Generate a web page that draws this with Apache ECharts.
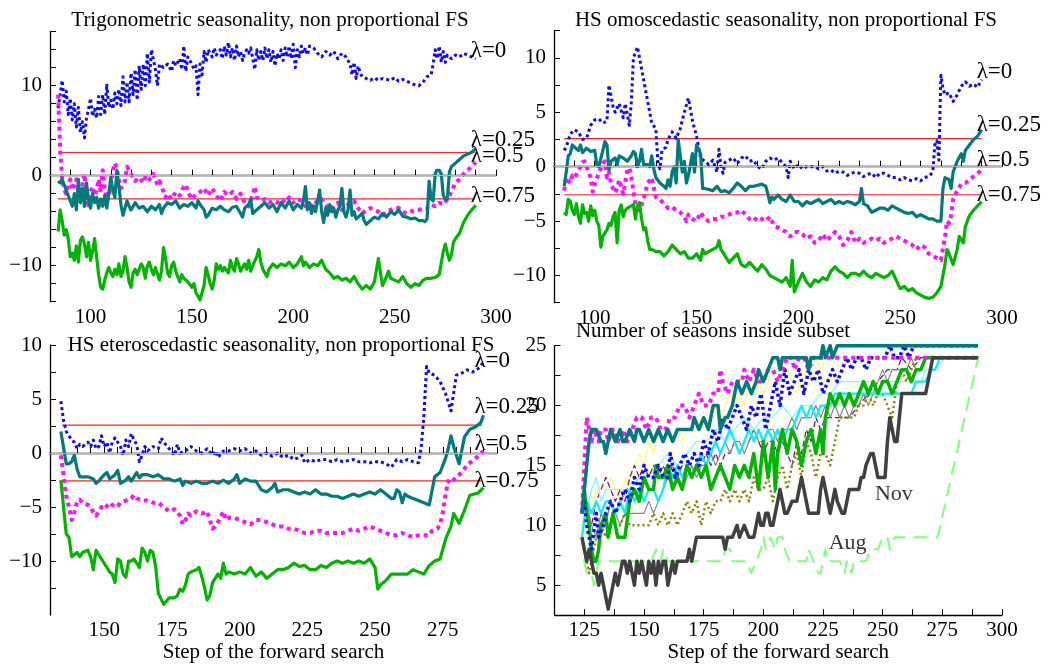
<!DOCTYPE html>
<html>
<head>
<meta charset="utf-8">
<script src="https://cdn.jsdelivr.net/npm/echarts@6/dist/echarts.min.js"></script>
<style>
html,body{margin:0;padding:0;background:#fff;}
#chart{width:1050px;height:664px;}
</style>
</head>
<body>
<div id="chart"></div>
<script>
// ---- data ----
var limitLevel = 2.58;

var titles = [
  'Trigonometric seasonality, non proportional FS',
  'HS omoscedastic seasonality, non proportional FS',
  'HS eteroscedastic seasonality, non proportional FS',
  'Number of seasons inside subset'
];
var lambdaLabels = ['\u03bb=0', '\u03bb=0.25', '\u03bb=0.5', '\u03bb=0.75'];
var xAxisTitle = 'Step of the forward search';

// panel 1: trigonometric
var p1Lam0 = [[84,7.5],[85,9.0],[86,10.6],[87,8.2],[88,9.4],[89,6.8],[90,8.6],[91,6.2],[92,8.0],[93,5.4],[94,7.6],[95,4.8],[96,6.0],[97,4.2],[98,6.4],[99,7.4],[100,8.6],[101,6.6],[102,7.4],[103,6.4],[104,8.8],[105,6.8],[106,9.0],[107,6.8],[108,10.2],[109,7.6],[110,8.4],[111,7.4],[112,9.2],[113,8.0],[114,9.6],[115,7.8],[116,11.0],[117,8.2],[118,10.4],[119,8.2],[120,11.4],[121,9.0],[122,11.8],[123,8.4],[124,12.2],[125,9.6],[126,12.4],[127,10.0],[128,13.6],[129,10.4],[130,14.0],[132,11.8],[133,10.0],[134,12.4],[136,12.0],[138,12.4],[140,11.6],[141,12.8],[142,12.2],[144,13.0],[145,11.8],[146,14.4],[147,11.6],[148,13.2],[150,12.4],[151,11.8],[152,12.2],[153,9.0],[154,12.4],[155,11.2],[156,13.8],[157,12.6],[158,14.0],[160,13.2],[161,14.2],[162,13.4],[164,14.0],[165,13.0],[166,14.4],[167,13.4],[168,14.8],[169,13.2],[170,14.2],[171,12.8],[172,14.4],[173,13.2],[174,13.8],[175,12.8],[176,13.6],[177,14.0],[178,13.6],[179,14.2],[180,13.0],[181,11.8],[182,14.0],[183,12.8],[184,13.8],[185,12.8],[186,14.2],[187,13.0],[188,14.0],[189,12.6],[190,13.8],[191,12.2],[192,13.6],[193,13.0],[194,14.0],[195,12.8],[196,14.2],[197,13.2],[198,14.4],[199,13.0],[200,14.6],[201,12.0],[202,14.0],[203,13.2],[204,14.4],[205,13.6],[206,14.2],[207,13.4],[208,14.4],[210,14.2],[212,13.6],[214,13.2],[216,13.8],[218,13.4],[220,13.8],[222,13.0],[224,13.6],[226,13.2],[228,12.4],[229,11.2],[230,12.6],[231,10.8],[232,12.2],[233,11.4],[234,11.0],[236,10.8],[238,10.6],[240,10.9],[242,10.6],[244,10.8],[246,10.7],[248,10.6],[250,10.9],[252,10.5],[254,10.7],[256,10.5],[258,10.3],[260,10.1],[262,10.0],[264,10.4],[266,11.0],[268,11.2],[269,12.4],[270,14.0],[271,13.0],[272,14.4],[273,12.6],[274,13.8],[275,12.6],[276,13.4],[278,13.0],[280,13.4],[282,13.2],[284,13.6],[286,13.4],[288,13.2],[290,13.0]];
var p1Lam25 = [[84,-0.6],[85,-0.8],[86,-0.4],[87,-1.0],[88,-1.6],[89,-2.2],[90,-2.8],[91,-3.4],[92,-2.0],[93,-3.8],[94,-0.4],[95,-3.0],[96,-1.4],[97,-3.4],[98,-0.8],[99,-2.6],[100,-3.6],[101,-2.0],[102,-3.0],[103,-2.4],[104,-3.6],[105,-2.6],[106,-3.4],[107,-2.2],[108,-3.6],[109,-2.0],[110,-0.2],[111,-1.6],[112,-2.4],[113,0.6],[114,-1.2],[115,-3.2],[116,-4.4],[117,-3.6],[118,-2.8],[119,-3.4],[120,-3.8],[122,-3.0],[124,-3.6],[126,-3.4],[128,-4.0],[130,-3.4],[132,-3.8],[134,-3.2],[135,-4.2],[136,-3.6],[138,-3.0],[140,-3.2],[142,-2.8],[144,-3.6],[146,-3.2],[148,-3.4],[150,-3.0],[152,-3.6],[153,-2.8],[154,-3.2],[156,-3.8],[157,-4.6],[158,-4.4],[160,-3.6],[162,-3.8],[164,-3.4],[166,-3.8],[168,-4.0],[170,-3.5],[172,-3.4],[174,-4.2],[175,-4.6],[176,-3.6],[178,-3.2],[179,-2.6],[180,-4.2],[182,-3.8],[184,-3.4],[186,-3.0],[188,-3.6],[190,-3.2],[192,-4.0],[194,-3.0],[196,-3.6],[198,-2.8],[200,-3.8],[202,-3.2],[204,-3.6],[205,-2.8],[206,-1.2],[207,-3.8],[208,-3.0],[209,-4.2],[210,-3.4],[211,-4.0],[212,-2.8],[213,-1.6],[214,-4.0],[215,-5.2],[216,-3.6],[217,-4.4],[218,-3.2],[219,-4.0],[220,-3.6],[221,-4.6],[222,-3.8],[223,-3.4],[224,-1.4],[225,-4.0],[226,-4.6],[227,-3.8],[228,-1.6],[229,-4.4],[230,-4.0],[231,-4.8],[232,-4.6],[234,-4.2],[235,-5.0],[236,-5.4],[238,-5.0],[240,-4.6],[242,-4.8],[244,-4.2],[246,-4.6],[248,-4.0],[250,-4.3],[252,-3.8],[254,-4.5],[256,-4.6],[258,-4.8],[260,-4.7],[262,-5.0],[264,-5.0],[265,-5.1],[266,-4.8],[267,-0.6],[268,-2.6],[269,-2.8],[270,0.2],[271,0.6],[272,0.6],[273,0.2],[274,-2.2],[275,-2.6],[276,-2.6],[277,0.4],[278,1.0],[280,1.4],[282,1.8],[284,2.2],[286,2.4],[288,2.6],[290,3.0]];
var p1Lam50 = [[84,9.0],[85,3.0],[86,-0.4],[87,-1.6],[88,-2.0],[89,-1.0],[90,-0.4],[91,-1.6],[92,-1.0],[93,-0.4],[94,-1.6],[95,-2.0],[96,-1.0],[97,0.2],[98,-2.6],[99,-3.6],[100,-1.8],[101,-1.2],[102,-2.2],[103,-1.6],[104,-0.4],[105,-1.8],[106,0.6],[107,-1.4],[108,-2.8],[109,-2.4],[110,-1.0],[111,0.6],[112,1.4],[113,0.8],[114,-0.6],[115,-1.4],[116,-1.0],[117,-0.6],[118,1.0],[119,0.6],[120,0.2],[122,-0.6],[124,-0.2],[126,-0.8],[127,-0.2],[128,-0.6],[130,-0.2],[131,0.2],[132,-0.4],[133,-1.0],[134,-0.6],[136,-1.8],[137,-2.4],[138,-2.0],[140,-2.6],[142,-1.8],[144,-2.2],[146,-1.2],[147,-1.0],[148,-1.8],[150,-2.6],[152,-2.0],[154,-1.8],[156,-1.4],[158,-2.2],[160,-1.4],[162,-2.2],[164,-2.8],[166,-1.8],[168,-2.2],[170,-1.8],[172,-2.6],[174,-2.0],[176,-3.0],[178,-3.4],[180,-2.2],[181,-1.2],[182,-2.4],[184,-2.8],[186,-2.6],[188,-3.0],[190,-2.8],[192,-3.0],[194,-2.6],[196,-3.0],[198,-2.4],[200,-3.0],[202,-2.6],[204,-2.8],[206,-3.4],[208,-3.6],[210,-2.8],[212,-3.0],[214,-2.6],[216,-3.2],[218,-3.8],[220,-3.4],[222,-3.0],[224,-3.8],[226,-3.4],[228,-3.0],[230,-2.8],[232,-3.6],[234,-4.2],[236,-3.8],[238,-3.6],[240,-3.8],[242,-4.0],[244,-4.4],[246,-4.0],[248,-3.8],[250,-3.6],[252,-3.6],[254,-4.0],[256,-4.2],[258,-4.0],[260,-3.8],[262,-3.8],[264,-3.6],[266,-3.6],[268,-3.2],[270,-3.4],[272,-3.0],[274,-3.2],[276,-2.6],[278,-1.8],[280,-0.8],[282,-0.4],[284,0.2],[286,0.6],[288,1.0],[290,1.5]];
var p1Lam75 = [[84,-6.2],[85,-3.8],[86,-5.0],[87,-6.6],[88,-6.0],[89,-7.0],[90,-9.0],[91,-8.6],[92,-9.4],[93,-7.8],[94,-9.6],[95,-7.2],[96,-6.8],[97,-7.6],[98,-9.0],[99,-7.4],[100,-9.4],[101,-8.4],[102,-7.0],[103,-9.0],[104,-11.0],[105,-12.4],[106,-12.6],[107,-11.6],[108,-10.8],[109,-10.2],[110,-10.8],[111,-11.2],[112,-10.4],[113,-11.0],[114,-9.8],[115,-11.2],[116,-10.6],[117,-9.0],[118,-10.2],[119,-11.8],[120,-12.4],[121,-10.8],[122,-10.4],[123,-11.0],[124,-10.4],[125,-9.8],[126,-10.2],[127,-11.4],[128,-10.0],[129,-9.6],[130,-10.4],[131,-11.0],[132,-10.2],[134,-11.6],[135,-10.6],[136,-8.0],[137,-9.2],[138,-10.8],[139,-11.2],[140,-10.0],[141,-9.6],[142,-10.6],[143,-11.2],[144,-11.8],[145,-11.0],[146,-11.4],[148,-11.8],[150,-12.4],[151,-12.0],[152,-13.0],[153,-13.4],[154,-13.8],[155,-13.0],[156,-12.2],[157,-10.2],[158,-11.0],[159,-12.0],[160,-12.6],[161,-11.6],[162,-9.8],[163,-10.4],[164,-10.0],[165,-10.6],[166,-10.2],[168,-10.8],[169,-9.4],[170,-10.2],[171,-10.6],[172,-9.2],[173,-9.8],[174,-10.6],[176,-9.8],[177,-10.4],[178,-9.4],[179,-10.6],[180,-10.0],[182,-9.0],[183,-8.2],[184,-9.6],[185,-10.4],[186,-10.8],[187,-11.2],[188,-10.4],[190,-9.8],[192,-10.2],[194,-9.8],[196,-10.0],[198,-9.6],[200,-10.2],[202,-9.8],[204,-9.0],[205,-10.0],[206,-9.6],[208,-10.2],[210,-9.8],[212,-10.0],[214,-9.4],[216,-10.4],[218,-10.8],[220,-11.4],[222,-11.2],[224,-11.6],[226,-11.4],[228,-11.8],[230,-11.2],[232,-12.0],[234,-12.6],[236,-12.2],[238,-12.6],[240,-11.8],[242,-9.2],[243,-10.8],[244,-12.2],[246,-11.2],[247,-10.6],[248,-11.4],[250,-11.6],[252,-11.8],[254,-11.2],[256,-12.0],[258,-12.4],[260,-12.0],[262,-12.2],[264,-11.6],[266,-11.4],[268,-11.4],[270,-11.3],[272,-11.0],[274,-8.4],[275,-7.6],[276,-8.6],[277,-9.4],[278,-8.8],[279,-7.4],[280,-7.0],[282,-6.4],[284,-5.2],[286,-4.4],[288,-3.8],[290,-3.3]];

// panel 2: HS omoscedastic
var p2Lam0 = [[85,1.5],[86,1.8],[88,3.0],[90,3.4],[92,3.2],[94,2.5],[96,2.6],[98,3.8],[100,4.3],[102,4.4],[104,4.0],[106,4.2],[107,7.5],[109,5.5],[110,5.0],[112,5.8],[114,4.5],[115,5.8],[117,3.8],[118,6.0],[119,10.0],[120,10.5],[121,11.0],[122,10.0],[124,8.0],[126,6.0],[128,4.0],[130,3.5],[131,0.5],[132,-0.2],[133,1.5],[135,1.8],[136,2.5],[138,3.2],[140,2.6],[142,3.5],[144,5.0],[146,6.3],[148,4.2],[150,2.8],[152,0.8],[154,0.5],[156,0.2],[158,0.6],[160,-0.5],[161,1.6],[162,0.0],[163,-0.6],[164,0.4],[166,0.6],[168,0.8],[170,0.3],[172,0.8],[174,1.0],[176,0.5],[178,0.6],[180,0.0],[182,-0.2],[184,0.5],[186,0.8],[188,0.6],[190,0.8],[192,0.4],[194,0.0],[195,-1.0],[196,0.5],[198,-0.2],[200,0.2],[202,-0.2],[204,0.0],[206,0.0],[208,0.0],[210,-0.2],[212,0.0],[214,-0.4],[216,-0.3],[218,-0.6],[220,-0.4],[222,-0.5],[224,-0.8],[226,-0.6],[228,-0.5],[230,-0.6],[232,-0.9],[234,-0.7],[236,-0.6],[238,-1.0],[240,-0.6],[242,-0.6],[244,-0.8],[246,-1.0],[248,-1.0],[250,-1.2],[252,-1.0],[254,-1.2],[256,-1.3],[258,-1.1],[260,-1.3],[262,-1.0],[264,-0.9],[266,-0.5],[267,2.0],[268,2.4],[269,0.6],[270,8.4],[271,7.2],[272,6.6],[274,6.8],[276,6.0],[278,6.6],[280,7.4],[282,7.8],[284,7.4],[286,7.6],[288,7.3],[290,8.0]];
var p2Lam25 = [[85,-1.8],[86,-0.5],[87,1.0],[88,1.2],[89,2.0],[90,1.8],[92,1.5],[93,2.0],[94,1.3],[96,1.7],[98,1.4],[100,1.5],[101,0.2],[102,0.0],[104,1.5],[105,2.3],[106,2.0],[107,-0.3],[108,0.5],[110,0.8],[111,0.2],[112,1.0],[114,0.8],[116,0.5],[118,1.0],[119,1.4],[120,1.2],[121,0.0],[122,0.5],[123,1.6],[124,0.2],[126,0.2],[127,0.0],[128,1.0],[129,-0.2],[130,-1.0],[132,-1.5],[134,-1.8],[135,-2.0],[136,-1.2],[137,-1.8],[138,-0.5],[139,0.0],[140,-1.5],[141,2.5],[142,1.0],[143,-0.5],[144,0.5],[145,-1.5],[146,-0.8],[148,1.2],[149,-0.5],[150,2.0],[152,1.2],[153,-2.0],[154,-2.0],[156,-2.1],[158,-2.2],[160,-1.8],[162,-2.3],[164,-2.2],[166,-2.4],[168,-2.0],[170,-1.5],[172,-1.8],[174,-2.2],[176,-1.8],[178,-1.8],[180,-1.7],[182,-1.6],[184,-1.8],[185,-2.5],[186,-3.3],[187,-2.8],[188,-3.0],[190,-2.6],[192,-3.0],[194,-3.2],[196,-2.6],[198,-3.2],[200,-3.2],[202,-3.6],[204,-3.2],[206,-3.4],[208,-3.2],[210,-3.0],[212,-3.4],[214,-3.2],[216,-3.0],[218,-3.4],[220,-3.2],[222,-3.4],[224,-3.2],[226,-3.3],[228,-3.5],[230,-3.2],[231,-2.0],[232,-3.4],[234,-3.6],[236,-4.2],[238,-4.0],[240,-3.8],[242,-3.8],[244,-4.0],[246,-3.6],[248,-3.8],[250,-4.0],[252,-4.2],[254,-4.3],[256,-4.2],[258,-4.6],[260,-4.4],[262,-4.6],[264,-4.8],[266,-4.8],[268,-5.0],[270,-5.0],[271,-2.0],[272,-1.0],[274,-1.2],[275,-2.0],[276,-0.5],[278,0.5],[280,1.2],[281,0.5],[282,1.5],[284,2.0],[286,2.5],[288,2.8],[290,3.4]];
var p2Lam50 = [[85,-2.2],[86,-1.0],[88,-1.5],[89,-0.8],[90,-1.0],[92,-0.4],[94,0.4],[95,0.5],[96,0.0],[98,-1.0],[99,-2.3],[100,-1.6],[102,-0.6],[104,0.3],[105,0.5],[106,-1.0],[107,-0.5],[108,-1.6],[110,-2.4],[111,-2.0],[112,-1.2],[114,-2.5],[116,-0.3],[117,-0.1],[118,-1.0],[119,-2.2],[120,-3.5],[122,-4.0],[124,-3.0],[126,-1.5],[128,-1.0],[130,-2.8],[132,-3.0],[134,-3.4],[136,-3.8],[138,-3.7],[140,-4.0],[142,-4.2],[144,-4.6],[145,-5.0],[146,-4.4],[148,-4.8],[150,-5.0],[152,-4.2],[154,-4.8],[156,-5.0],[158,-4.8],[160,-4.8],[162,-4.6],[164,-4.6],[166,-4.4],[168,-4.2],[170,-4.2],[172,-4.0],[174,-4.4],[176,-4.8],[178,-5.0],[180,-4.6],[182,-4.8],[184,-5.0],[186,-4.6],[188,-5.4],[190,-5.6],[192,-5.8],[194,-6.0],[196,-6.4],[198,-6.0],[200,-6.0],[202,-6.2],[204,-6.6],[206,-6.4],[208,-7.0],[210,-6.8],[212,-6.2],[214,-6.8],[216,-6.4],[218,-6.0],[220,-6.4],[222,-7.2],[224,-6.8],[226,-6.0],[228,-7.0],[230,-6.6],[232,-7.0],[234,-6.8],[236,-6.6],[238,-6.8],[240,-6.6],[242,-7.0],[244,-6.8],[246,-6.6],[248,-6.4],[250,-6.6],[252,-6.8],[254,-7.0],[256,-7.2],[258,-7.6],[260,-7.2],[262,-7.4],[264,-8.0],[266,-8.2],[268,-8.4],[270,-8.6],[271,-7.5],[272,-6.5],[273,-5.0],[274,-5.2],[275,-4.5],[276,-3.0],[278,-2.2],[280,-1.6],[282,-1.5],[284,-1.2],[286,-0.9],[288,-0.6],[290,-0.3]];
var p2Lam75 = [[85,-4.2],[86,-4.4],[87,-3.0],[88,-3.2],[89,-4.0],[90,-4.4],[91,-3.4],[92,-4.6],[93,-5.2],[94,-3.5],[95,-4.3],[96,-4.2],[97,-5.0],[98,-3.6],[99,-4.5],[100,-4.0],[101,-5.0],[102,-5.4],[103,-7.4],[104,-6.4],[106,-5.8],[107,-5.2],[108,-5.4],[109,-4.6],[110,-4.2],[111,-7.0],[112,-4.0],[113,-3.5],[114,-4.6],[115,-4.0],[116,-3.8],[118,-3.6],[119,-3.5],[120,-4.8],[121,-3.6],[122,-3.3],[123,-4.8],[124,-5.8],[125,-5.6],[126,-6.8],[127,-7.6],[128,-7.6],[130,-7.8],[132,-7.8],[134,-8.2],[136,-7.8],[138,-7.2],[140,-7.6],[142,-8.0],[144,-7.8],[146,-8.4],[148,-8.4],[150,-8.0],[152,-8.6],[153,-7.6],[154,-8.0],[156,-7.8],[158,-7.6],[160,-7.4],[161,-6.8],[162,-7.6],[164,-8.2],[166,-8.8],[168,-8.4],[170,-8.0],[172,-9.0],[174,-9.2],[176,-8.8],[178,-9.2],[180,-9.6],[182,-9.0],[184,-9.4],[186,-10.0],[188,-10.2],[190,-10.4],[192,-10.6],[194,-10.2],[196,-11.0],[197,-8.6],[198,-11.5],[200,-10.6],[202,-9.8],[204,-10.6],[206,-11.0],[208,-10.4],[210,-10.6],[212,-10.2],[214,-10.4],[216,-9.6],[218,-9.2],[220,-9.6],[222,-9.8],[224,-10.2],[226,-9.8],[228,-9.8],[230,-10.0],[232,-9.6],[234,-10.0],[236,-10.2],[238,-9.8],[240,-10.0],[242,-10.2],[244,-10.0],[246,-9.6],[248,-10.4],[250,-11.2],[252,-11.0],[254,-11.4],[256,-11.2],[258,-11.6],[260,-11.8],[262,-12.0],[264,-12.1],[266,-12.0],[268,-11.6],[270,-11.0],[272,-9.0],[273,-7.6],[274,-8.0],[276,-9.0],[278,-7.6],[279,-6.4],[281,-7.0],[282,-5.5],[284,-4.5],[286,-4.0],[288,-3.6],[290,-3.2]];

// panel 3: HS eteroscedastic
var p3Lam0 = [[134,4.8],[135,3.0],[136,2.0],[138,1.2],[139,1.0],[140,0.4],[141,0.8],[142,0.6],[144,1.0],[145,0.6],[146,1.2],[147,0.4],[148,0.6],[149,1.6],[150,0.6],[151,1.0],[152,0.0],[153,1.0],[154,1.4],[155,1.0],[156,0.6],[157,-0.2],[158,1.2],[159,0.6],[160,1.8],[161,1.2],[162,0.8],[163,-0.8],[164,-0.2],[165,0.6],[166,0.2],[168,0.6],[170,0.4],[171,1.4],[172,1.0],[174,0.4],[176,-0.2],[177,0.8],[178,0.0],[180,0.2],[182,0.6],[184,0.2],[186,0.0],[188,0.4],[190,-0.2],[191,0.2],[192,-0.4],[194,0.2],[196,0.2],[198,0.4],[200,0.2],[202,0.4],[204,0.0],[206,0.2],[208,-0.2],[210,0.0],[212,-0.3],[214,0.0],[216,-0.4],[218,-0.2],[220,-0.6],[222,-0.4],[223,-0.2],[224,-0.9],[226,-0.6],[228,-0.8],[230,-0.6],[232,-0.6],[234,-0.8],[236,-0.6],[238,-0.8],[240,-0.7],[242,-0.6],[244,-0.8],[246,-0.8],[248,-0.9],[250,-0.8],[252,-0.8],[254,-1.0],[256,-1.3],[258,-0.6],[260,-0.8],[262,-0.6],[264,-0.8],[266,-0.9],[267,0.5],[268,3.4],[269,8.0],[270,7.4],[272,7.2],[274,6.6],[276,5.5],[278,3.9],[280,7.2],[282,7.4],[284,7.7],[286,7.5],[288,7.8],[290,8.4]];
var p3Lam25 = [[134,2.0],[135,0.5],[136,-1.0],[137,-1.0],[138,-0.8],[139,-0.2],[140,-1.5],[141,-2.2],[142,-2.2],[144,-2.2],[146,-2.4],[147,-2.8],[148,-2.6],[150,-2.0],[151,-1.8],[152,-2.4],[154,-2.0],[155,-1.6],[156,-2.8],[158,-2.5],[159,-2.2],[160,-2.6],[161,-2.2],[162,-1.8],[163,-2.3],[164,-2.0],[166,-2.0],[168,-2.2],[170,-2.0],[172,-2.4],[174,-2.4],[176,-2.6],[178,-2.4],[179,-3.0],[180,-2.6],[182,-2.8],[184,-2.6],[186,-2.8],[188,-2.8],[190,-2.6],[192,-2.8],[194,-2.5],[196,-2.8],[198,-2.4],[199,-2.0],[200,-2.8],[202,-2.4],[204,-2.6],[206,-2.6],[208,-3.4],[210,-3.6],[212,-3.2],[213,-2.8],[214,-3.6],[216,-3.4],[218,-3.4],[220,-3.6],[222,-3.8],[224,-3.6],[226,-3.8],[228,-3.4],[230,-3.8],[232,-3.8],[234,-4.0],[236,-4.0],[238,-4.2],[240,-4.0],[242,-3.8],[244,-4.0],[246,-3.8],[248,-3.6],[250,-3.8],[252,-3.4],[254,-3.8],[256,-4.2],[257,-4.2],[258,-3.4],[259,-3.6],[260,-4.6],[261,-3.8],[262,-4.0],[264,-4.2],[266,-4.4],[268,-4.6],[270,-4.8],[272,-2.2],[274,-1.8],[276,-0.5],[277,0.4],[278,1.6],[279,0.6],[281,-1.0],[283,1.5],[285,2.2],[287,2.4],[289,2.8],[290,3.5]];
var p3Lam50 = [[134,-0.2],[135,-2.0],[136,-4.0],[137,-5.0],[138,-6.2],[139,-5.5],[140,-4.5],[141,-4.3],[142,-4.6],[144,-4.8],[145,-5.0],[146,-5.5],[147,-5.8],[148,-5.4],[149,-5.0],[150,-5.2],[152,-4.6],[154,-5.0],[155,-4.9],[156,-4.6],[158,-4.4],[160,-4.2],[161,-3.9],[162,-4.2],[164,-4.4],[166,-4.4],[168,-4.6],[170,-4.6],[172,-5.0],[174,-5.4],[176,-5.2],[178,-5.8],[179,-6.6],[180,-6.2],[181,-5.6],[182,-5.8],[184,-5.4],[186,-5.6],[188,-5.4],[189,-6.2],[190,-7.0],[191,-6.8],[192,-6.4],[194,-5.4],[195,-6.2],[196,-6.0],[198,-6.0],[200,-6.2],[202,-6.4],[204,-6.6],[206,-6.2],[208,-6.2],[210,-6.4],[212,-6.6],[214,-6.8],[216,-6.8],[218,-7.0],[220,-7.0],[222,-7.2],[224,-7.4],[226,-7.4],[228,-7.2],[230,-7.2],[232,-7.4],[234,-7.4],[236,-7.4],[238,-7.4],[240,-7.2],[242,-7.0],[244,-7.2],[246,-7.0],[248,-6.8],[250,-7.0],[252,-7.2],[254,-7.4],[256,-7.6],[258,-7.6],[260,-7.4],[262,-7.6],[264,-7.8],[266,-7.6],[268,-7.6],[270,-7.6],[271,-7.2],[273,-7.0],[274,-6.6],[275,-5.5],[276,-3.8],[277,-2.6],[278,-2.8],[280,-2.2],[282,-1.8],[284,-1.1],[286,-0.7],[288,-0.3],[290,0.2]];
var p3Lam75 = [[134,-2.5],[135,-5.0],[136,-7.5],[137,-7.8],[138,-9.6],[139,-9.4],[140,-9.2],[141,-9.6],[142,-9.2],[144,-9.0],[145,-9.6],[146,-10.8],[147,-9.0],[148,-9.4],[150,-10.2],[152,-11.0],[153,-11.2],[154,-12.0],[155,-9.8],[156,-10.0],[157,-11.2],[158,-11.5],[159,-10.0],[160,-10.0],[161,-9.8],[162,-10.2],[163,-10.6],[164,-8.8],[165,-9.2],[166,-10.0],[167,-9.0],[168,-9.2],[169,-10.5],[170,-13.0],[171,-13.5],[172,-14.0],[174,-13.4],[176,-13.4],[177,-13.2],[178,-12.6],[179,-12.8],[180,-12.2],[181,-11.2],[182,-11.0],[184,-10.8],[185,-10.6],[186,-11.4],[187,-12.4],[188,-13.6],[189,-13.2],[190,-12.0],[192,-11.2],[193,-11.6],[194,-10.2],[195,-11.2],[196,-11.0],[198,-11.2],[200,-11.0],[202,-11.2],[204,-10.6],[206,-11.4],[208,-11.0],[210,-11.6],[212,-11.2],[214,-10.8],[216,-10.8],[218,-10.6],[220,-10.2],[222,-10.5],[224,-10.4],[226,-10.8],[228,-10.8],[230,-10.4],[232,-10.6],[234,-10.2],[236,-10.0],[238,-10.2],[240,-10.0],[242,-10.2],[244,-10.0],[246,-10.2],[248,-9.8],[250,-10.6],[251,-12.6],[252,-12.2],[254,-11.8],[256,-11.2],[258,-11.2],[260,-11.2],[262,-11.2],[264,-10.8],[266,-11.0],[268,-11.2],[270,-10.4],[272,-10.0],[274,-9.8],[276,-8.0],[277,-7.4],[278,-6.8],[279,-5.6],[281,-6.5],[283,-5.3],[285,-3.9],[288,-3.7],[290,-3.2]];

// panel 4: number of seasons inside subset (one line per month)
var p4Teal = [[124,11],[125,13],[126,15],[127,17],[128,18],[130,18],[132,17],[133,17],[134,16],[135,17],[136,18],[138,17],[140,18],[141,17],[142,17],[144,18],[146,17],[147,18],[148,18],[150,17],[152,18],[154,17],[156,18],[158,17],[160,18],[162,17],[164,18],[166,18],[168,18],[170,18],[171,19],[173,18],[175,19],[177,18],[179,20],[181,20],[182,18],[184,19],[185,19],[187,20],[189,22],[191,21],[193,22],[195,21],[197,22],[198,23],[200,22],[202,23],[204,24],[206,24],[207,23],[208,24],[210,24],[212,24],[214,24],[216,24],[218,24],[219,23],[220,24],[222,24],[224,24],[225,25],[226,24],[228,25],[229,24],[231,25],[232,25],[290,25]];
var p4Magenta = [[124,11],[125,15],[126,19],[127,18],[128,17],[129,18],[131,17],[132,18],[134,18],[135,17],[137,18],[139,17],[141,18],[143,17],[145,18],[147,19],[149,19],[151,18],[153,19],[155,19],[157,18],[159,18],[161,19],[163,19],[165,20],[167,20],[169,19],[171,20],[173,21],[175,20],[177,20],[179,21],[181,21],[182,23],[183,22],[185,21],[187,22],[189,22],[191,22],[192,23],[194,22],[196,23],[198,22],[200,22],[202,23],[204,23],[206,22],[208,23],[210,24],[212,24],[213,23],[215,24],[217,24],[219,23],[221,24],[290,24]];
var p4Blue = [[124,11],[125,12],[126,10],[127,9],[128,8],[130,11],[131,9],[133,10],[134,11],[136,12],[138,11],[140,12],[142,13],[144,12],[146,14],[148,13],[150,15],[152,14],[154,14],[156,15],[158,14],[160,14],[161,16],[163,14],[165,15],[167,16],[169,15],[171,16],[173,15],[175,17],[177,16],[179,18],[181,17],[183,19],[185,18],[187,19],[189,20],[191,19],[193,18],[195,20],[197,19],[199,21],[201,18],[203,20],[205,22],[207,20],[209,23],[211,21],[213,22],[215,23],[217,21],[219,23],[221,22],[223,23],[225,21],[227,22],[229,23],[231,22],[233,23],[235,24],[237,23],[239,24],[241,24],[243,23],[245,24],[247,24],[249,24],[251,24],[253,25],[255,24],[257,24],[259,25],[261,24],[263,25],[290,25]];
var p4Yellow = [[124,10],[126,12],[128,11],[130,13],[132,12],[134,13],[136,14],[138,13],[140,12],[142,14],[144,13],[146,15],[148,16],[150,15],[152,17],[154,16],[156,18],[158,17],[160,18],[162,17],[164,18],[166,17],[168,18],[170,18],[172,19],[174,18],[176,19],[178,19],[180,20],[182,19],[184,20],[186,21],[188,20],[190,21],[192,20],[194,22],[196,21],[198,22],[200,21],[202,22],[204,23],[206,22],[208,22],[210,23],[212,22],[214,21],[216,22],[218,23],[220,23],[222,24],[224,23],[226,24],[230,24],[290,24]];
var p4Purple = [[124,12],[126,11],[128,10],[130,12],[132,13],[134,14],[136,13],[138,12],[140,13],[142,12],[144,14],[146,15],[148,14],[150,15],[152,14],[154,15],[156,14],[158,15],[160,14],[162,15],[164,14],[166,15],[168,15],[170,14],[172,15],[174,15],[176,16],[178,15],[180,16],[182,15],[184,16],[186,16],[188,17],[190,16],[192,17],[194,17],[196,18],[198,17],[200,16],[202,17],[204,17],[206,16],[208,17],[210,16],[212,15],[214,17],[216,16],[218,18],[220,17],[222,19],[224,18],[226,19],[228,19],[230,19],[232,19],[236,19],[240,20],[244,21],[248,22],[252,23],[256,23],[258,24],[262,23],[266,24],[290,24]];
var p4Gray = [[124,9],[126,12],[128,10],[130,9],[132,11],[134,10],[136,12],[138,11],[140,10],[142,11],[144,11],[146,11],[148,11],[150,11],[152,12],[154,11],[156,12],[158,13],[160,14],[162,13],[164,14],[166,13],[168,14],[170,15],[172,14],[174,15],[176,15],[178,16],[180,15],[182,16],[184,17],[186,16],[188,17],[190,17],[192,16],[194,17],[196,18],[198,17],[200,17],[202,18],[204,18],[206,17],[208,18],[210,18],[212,19],[214,18],[216,19],[218,19],[220,19],[222,20],[224,19],[226,20],[228,19],[230,20],[232,19],[234,20],[236,19],[238,20],[240,20],[242,21],[244,20],[246,21],[248,22],[250,23],[252,22],[254,23],[256,23],[258,23],[260,23],[262,24],[264,23],[266,23],[268,24],[270,24],[290,24]];
var p4LightCyan = [[124,10],[126,11],[128,13],[130,14],[132,12],[134,13],[136,13],[140,13],[144,13],[148,14],[152,14],[156,15],[160,16],[164,15],[168,16],[172,17],[176,17],[180,18],[184,17],[188,18],[192,19],[196,18],[200,19],[204,19],[208,20],[212,19],[216,20],[220,20],[224,21],[228,21],[232,22],[240,22],[250,22],[260,22],[266,22],[268,23],[272,23],[276,24],[290,24]];
var p4Olive = [[124,9],[126,7],[127,6],[128,7],[130,9],[132,10],[134,9],[136,10],[138,10],[140,10],[142,11],[144,10],[146,10],[148,10],[150,10],[152,10],[154,11],[156,10],[158,11],[160,10],[162,11],[164,10],[166,11],[168,12],[170,11],[172,12],[174,10],[176,12],[178,11],[180,12],[182,12],[184,13],[186,12],[188,13],[190,12],[192,13],[194,12],[196,14],[198,13],[200,13],[202,14],[204,12],[206,14],[208,15],[210,13],[212,15],[214,16],[216,14],[218,17],[220,16],[222,14],[224,16],[226,16],[228,15],[230,17],[232,19],[234,19],[236,19],[238,19],[240,20],[242,20],[244,21],[246,20],[248,21],[250,21],[252,20],[254,19],[256,22],[258,23],[260,22],[262,23],[264,24],[290,24]];
var p4Cyan = [[124,9],[126,12],[128,11],[130,12],[132,11],[134,12],[136,12],[138,11],[140,12],[142,11],[144,13],[146,12],[148,13],[150,12],[152,13],[154,13],[156,12],[158,13],[160,15],[162,14],[164,15],[166,14],[168,15],[170,14],[172,15],[174,16],[176,15],[178,16],[180,17],[182,16],[184,17],[186,18],[188,17],[190,16],[192,17],[194,18],[196,17],[198,18],[200,17],[202,18],[204,17],[206,18],[208,17],[210,18],[212,18],[214,19],[216,20],[218,19],[220,20],[222,19],[224,20],[226,20],[228,20],[230,21],[236,21],[240,21],[250,21],[256,21],[262,21],[264,22],[268,22],[270,23],[272,23],[274,24],[290,24]];
var p4Green = [[124,11],[125,13],[126,11],[127,10],[128,8],[129,7],[130,7],[131,8],[132,10],[134,11],[135,9],[136,10],[137,11],[138,10],[139,9],[140,9],[142,9],[144,12],[146,13],[148,12],[150,14],[152,13],[154,13],[155,15],[156,14],[158,14],[160,15],[162,13],[164,14],[166,13],[168,15],[170,14],[172,15],[174,14],[176,15],[178,13],[180,14],[182,15],[184,14],[186,13],[188,15],[190,14],[192,15],[194,14],[196,16],[198,13],[200,17],[202,14],[204,17],[205,13],[206,16],[208,18],[210,16],[212,18],[214,17],[216,15],[218,17],[220,18],[222,16],[224,18],[225,16],[226,19],[228,21],[230,20],[232,21],[234,20],[236,21],[238,20],[240,21],[242,22],[244,21],[246,22],[248,21],[250,22],[252,22],[254,21],[256,22],[258,23],[260,23],[262,22],[264,23],[266,23],[268,24],[290,24]];
var p4Nov = [[124,9],[125,8],[126,7],[127,8],[128,7],[129,6],[130,6],[131,5],[132,6],[133,5],[134,4],[135,3],[136,4],[137,5],[138,6],[139,5],[140,6],[141,7],[142,7],[143,6],[144,7],[145,6],[146,5],[147,7],[148,6],[149,7],[150,6],[151,5],[152,7],[153,6],[154,7],[155,5],[156,7],[157,6],[158,7],[159,7],[160,5],[161,6],[162,7],[163,6],[164,7],[166,7],[168,7],[169,8],[170,7],[171,8],[172,9],[174,9],[176,9],[178,9],[180,9],[182,9],[183,9],[184,8],[185,9],[187,9],[189,10],[190,9],[192,10],[194,9],[196,9],[198,11],[199,10],[200,10],[201,11],[202,11],[203,10],[204,10],[206,12],[207,13],[208,12],[209,11],[210,11],[212,12],[214,12],[215,13],[216,14],[217,13],[218,12],[219,11],[221,11],[223,11],[224,13],[225,14],[226,13],[227,12],[228,11],[229,12],[230,13],[231,12],[233,11],[234,11],[235,12],[236,13],[238,13],[240,13],[241,14],[242,14],[243,15],[245,16],[246,16],[247,15],[248,14],[250,14],[251,14],[252,17],[253,19],[254,18],[255,17],[256,17],[257,19],[258,21],[260,21],[262,21],[264,21],[266,21],[268,21],[269,22],[270,23],[271,24],[290,24]];
var p4Aug = [[124,9],[125,7],[126,6],[128,6],[129,5],[130,6],[131,7],[135,7],[140,7],[145,7],[150,7],[153,7],[155,8],[157,7],[158,8],[160,7],[165,7],[170,7],[175,7],[180,7],[183,7],[184,8],[186,8],[187,7],[190,7],[193,7],[195,6],[197,7],[199,8],[200,9],[201,8],[203,9],[205,8],[206,9],[208,9],[209,8],[211,7],[213,7],[215,7],[218,7],[219,8],[221,7],[223,6],[224,6],[225,7],[226,8],[227,7],[230,7],[232,7],[234,6],[235,7],[237,6],[238,7],[240,7],[243,7],[245,8],[248,8],[250,9],[252,9],[253,8],[255,9],[260,9],[265,9],[270,9],[273,9],[290,24]];
var monthNotes = [['Nov', 254.7, 12.6], ['Aug', 235.3, 8.5]];

// ---- chart ----
var serif = 'Liberation Serif';
var chart = echarts.init(document.getElementById('chart'), null, {renderer: 'canvas'});

function tickText(every) {
  return function (v) {
    var q = v / every;
    if (Math.abs(q - Math.round(q)) > 1e-6) return '';
    return String(v).replace('-', '\u2212');
  };
}

function makeXAxis(grid, min, max, interval, every, name) {
  return {
    type: 'value', gridIndex: grid, min: min, max: max, interval: interval,
    name: name || '', nameLocation: 'middle', nameGap: 24,
    nameTextStyle: {fontFamily: serif, fontSize: 21, color: '#000'},
    axisLine: {lineStyle: {color: '#000', width: 1.3}},
    axisTick: {inside: true, length: 6, lineStyle: {color: '#000', width: 1}},
    axisLabel: {formatter: tickText(every), fontFamily: serif, fontSize: 21, color: '#000', margin: 5},
    splitLine: {show: false}
  };
}
function makeYAxis(grid, min, max, interval, every) {
  return {
    type: 'value', gridIndex: grid, min: min, max: max, interval: interval,
    axisLine: {show: true, lineStyle: {color: '#000', width: 1.3}},
    axisTick: {show: true, inside: true, length: 6, lineStyle: {color: '#000', width: 1}},
    axisLabel: {formatter: tickText(every), fontFamily: serif, fontSize: 21, color: '#000', margin: 8},
    splitLine: {show: false}
  };
}

function line(grid, data, color, width, type, z) {
  return {
    type: 'line', xAxisIndex: grid, yAxisIndex: grid, data: data,
    showSymbol: false, symbol: 'none', silent: true, z: z || 3,
    lineStyle: {color: color, width: width, type: type || 'solid', join: 'round'}
  };
}
function lambdaLine(grid, data, color, width, type, label, dy, dx) {
  var s = line(grid, data, color, width, type, 4);
  s.endLabel = {
    show: true, formatter: label, color: '#000', fontFamily: serif, fontSize: 23,
    distance: 0, offset: [dx, dy]
  };
  return s;
}
function limitLines(grid, x0, x1) {
  var up = line(grid, [[x0, limitLevel], [x1, limitLevel]], '#ff2020', 1.2, 'solid', 2);
  up.markLine = {
    symbol: 'none', silent: true, label: {show: false}, animation: false,
    lineStyle: {color: '#b4b4b4', type: 'solid', width: 1.2},
    data: [{yAxis: 0}]
  };
  var down = line(grid, [[x0, -limitLevel], [x1, -limitLevel]], '#ff2020', 1.2, 'solid', 2);
  return [up, down];
}

var blue = '#0a0aff', teal = '#007b7b', magenta = '#ff10ff', green = '#00b400';
var dotBlue = [3, 3], dotMag = [4, 4];

var series = [];
// panel 1
series = series.concat(limitLines(0, 84, 289.5));
series.push(lambdaLine(0, p1Lam0, blue, 3, dotBlue, lambdaLabels[0], -8, -5));
series.push(lambdaLine(0, p1Lam50, magenta, 4, dotMag, lambdaLabels[2], -6, -5));
series.push(lambdaLine(0, p1Lam25, teal, 3.2, 'solid', lambdaLabels[1], -9, -5));
series.push(lambdaLine(0, p1Lam75, green, 3.2, 'solid', lambdaLabels[3], -9, -5));
// panel 2
series = series.concat(limitLines(1, 85, 290));
series.push(lambdaLine(1, p2Lam0, blue, 3, dotBlue, lambdaLabels[0], -8, -5));
series.push(lambdaLine(1, p2Lam50, magenta, 4, dotMag, lambdaLabels[2], -10, -5));
series.push(lambdaLine(1, p2Lam25, teal, 3.2, 'solid', lambdaLabels[1], -5, -5));
series.push(lambdaLine(1, p2Lam75, green, 3.2, 'solid', lambdaLabels[3], -7, -5));
// panel 3
series = series.concat(limitLines(2, 134.5, 289.5));
series.push(lambdaLine(2, p3Lam0, blue, 3, dotBlue, lambdaLabels[0], -1, -9));
series.push(lambdaLine(2, p3Lam50, magenta, 4, dotMag, lambdaLabels[2], -7, -9));
series.push(lambdaLine(2, p3Lam25, teal, 3.2, 'solid', lambdaLabels[1], -8, -9));
series.push(lambdaLine(2, p3Lam75, green, 3.2, 'solid', lambdaLabels[3], -7, -9));
// panel 4
series.push(line(3, p4Yellow, '#ffff70', 1.2));
series.push(line(3, p4Purple, '#8b008b', 1.2, [6, 3]));
series.push(line(3, p4Gray, '#858585', 1.2));
series.push(line(3, p4LightCyan, '#70ffff', 1.2));
series.push(line(3, p4Olive, '#8a8000', 2.5, [2, 3]));
series.push(line(3, p4Cyan, '#00f0ff', 2.2));
series.push(line(3, p4Green, green, 3.5));
series.push(line(3, p4Blue, blue, 3.5, dotBlue));
series.push(line(3, p4Magenta, magenta, 4, dotMag));
series.push(line(3, p4Teal, teal, 3.5));
series.push(line(3, p4Aug, '#80ff80', 2, [14, 8]));
series.push(line(3, p4Nov, '#404040', 3.5));
// month notes as text points
series.push({
  type: 'scatter', xAxisIndex: 3, yAxisIndex: 3, symbolSize: 0, silent: true, z: 6,
  data: monthNotes.map(function (m) { return {value: [m[1], m[2]], name: m[0]}; }),
  label: {show: true, position: 'inside', formatter: '{b}', color: '#000', fontFamily: serif, fontSize: 22}
});

var titleFont = '21px "Liberation Serif"';
var option = {
  animation: false,
  backgroundColor: '#fff',
  grid: [
    {left: 50, top: 31.7, width: 446, height: 270},
    {left: 554, top: 30.7, width: 448, height: 272},
    {left: 50, top: 345, width: 447, height: 272},
    {left: 554.5, top: 345.7, width: 447.5, height: 271.3}
  ],
  xAxis: [
    makeXAxis(0, 80, 300, 10, 50),
    makeXAxis(1, 80, 300, 10, 50),
    makeXAxis(2, 130, 295, 5, 25, xAxisTitle),
    makeXAxis(3, 112.5, 300, 12.5, 25, xAxisTitle)
  ],
  yAxis: [
    makeYAxis(0, -14, 16, 2, 10),
    makeYAxis(1, -12.5, 12.5, 2.5, 5),
    makeYAxis(2, -15, 10, 2.5, 5),
    makeYAxis(3, 2.5, 25, 2.5, 5)
  ],
  graphic: [
    {type: 'text', x: 270, y: 20, style: {text: titles[0], font: titleFont, fill: '#000', align: 'center', verticalAlign: 'middle'}},
    {type: 'text', x: 786, y: 20, style: {text: titles[1], font: titleFont, fill: '#000', align: 'center', verticalAlign: 'middle'}},
    {type: 'text', x: 281, y: 345, style: {text: titles[2], font: titleFont, fill: '#000', align: 'center', verticalAlign: 'middle'}},
    {type: 'text', x: 713, y: 331, style: {text: titles[3], font: titleFont, fill: '#000', align: 'center', verticalAlign: 'middle'}}
  ],
  series: series
};
option.yAxis[2].axisLabel.showMinLabel = false;
chart.setOption(option);
</script>
</body>
</html>
